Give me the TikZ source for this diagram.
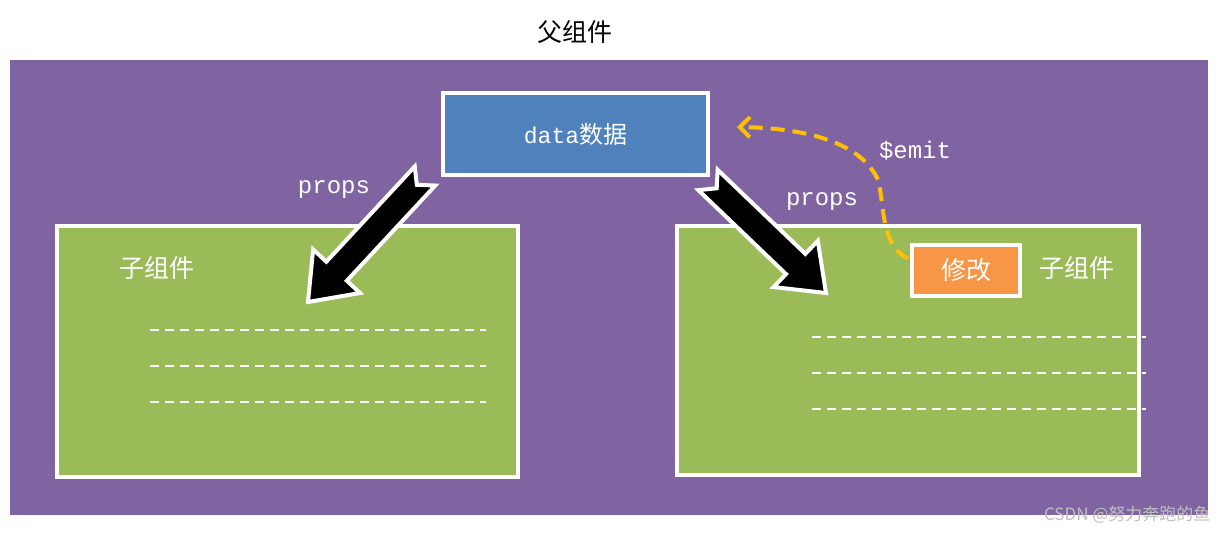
\documentclass[tikz,border=0pt]{standalone}
\usepackage{fontspec}
\setmainfont{Liberation Sans}
\newfontfamily\cjk{Noto Sans CJK SC}
\newfontfamily\mono{Liberation Mono}
\usetikzlibrary{calc,arrows.meta}
\definecolor{purp}{HTML}{8064A2}
\definecolor{blu}{HTML}{4F81BD}
\definecolor{grn}{HTML}{9BBB59}
\definecolor{orng}{HTML}{F79646}
\definecolor{gold}{HTML}{FFC000}
\tikzset{
 boxw/.style={draw=white,line width=4pt},
 dl/.style={draw=white,line width=1.5pt,dash pattern=on 9pt off 6pt},
 lbl/.style={text=white,font=\mono\fontsize{24}{24}\selectfont},
 cj/.style={text=white,font=\cjk\fontsize{25}{25}\selectfont},
 barrow/.style={fill=black,draw=white,line width=4pt,line join=miter},
}
\newcommand{\blockarr}[2]{%
 \coordinate (H) at ($(#2)!42pt!(#1)$);
 \path[barrow] ($(#1)!14pt!90:(#2)$) -- ($(H)!14pt!-90:(#1)$) -- ($(H)!32pt!-90:(#1)$) -- (#2)
   -- ($(H)!32pt!90:(#1)$) -- ($(H)!14pt!90:(#1)$) -- ($(#1)!14pt!-90:(#2)$) -- ($(#1)!12pt!(#2)$) -- cycle;}
\begin{document}
\begin{tikzpicture}[x=1pt,y=-1pt]
\useasboundingbox (0,0) rectangle (1218,534);
\fill[white] (0,0) rectangle (1218,534);
\node[font=\cjk\fontsize{25}{25}\selectfont] (title) at (575,32) {父组件};
\fill[purp] (10,60) rectangle (1208,515);
\path[boxw,fill=grn] (57,226) rectangle (518,477);
\path[boxw,fill=grn] (677,226) rectangle (1139,475);
\node[boxw,fill=blu,minimum width=265pt,minimum height=82pt,inner sep=0] (data) at (575.5,134) {};
\node[text=white] at (data) {\mono\fontsize{23}{23}\selectfont data\cjk\fontsize{24}{24}\selectfont 数据};
\node[cj] (l1) at (157,268) {子组件};
\node[cj] (r1) at (1077,268) {子组件};
\node[boxw,fill=orng,minimum width=108pt,minimum height=51pt,inner sep=0] (mod) at (966,270.5) {};
\node[cj] at (mod) {修改};
\foreach \y in {330,366,402} \draw[dl] (150,\y) -- (486,\y);
\foreach \y in {337,373,409} \draw[dl] (812,\y) -- (1146,\y);
\node[lbl] (p1) at (334,190) {props};
\node[lbl] (p2) at (822,202) {props};
\node[lbl] (em) at (915,151) {\$emit};
\coordinate (LA) at (425,176); \coordinate (LB) at (308,302);
\coordinate (RA) at (708,180); \coordinate (RB) at (826,293);
\blockarr{LA}{LB}
\blockarr{RA}{RB}
\coordinate (ee) at (737,127);
\draw[gold,line width=4pt,dash pattern=on 14pt off 8pt,-{Straight Barb[length=10pt,width=20pt]}]
 (mod.west) ++(-2,-12) .. controls (880,245) and (885,205) .. (878,180)
 .. controls (860,140) and (800,128) .. (ee);
\node[text=black!25,font=\cjk\fontsize{17}{17}\selectfont,anchor=east] (wm) at (1214,515) {CSDN @努力奔跑的鱼};
\end{tikzpicture}
\end{document}
